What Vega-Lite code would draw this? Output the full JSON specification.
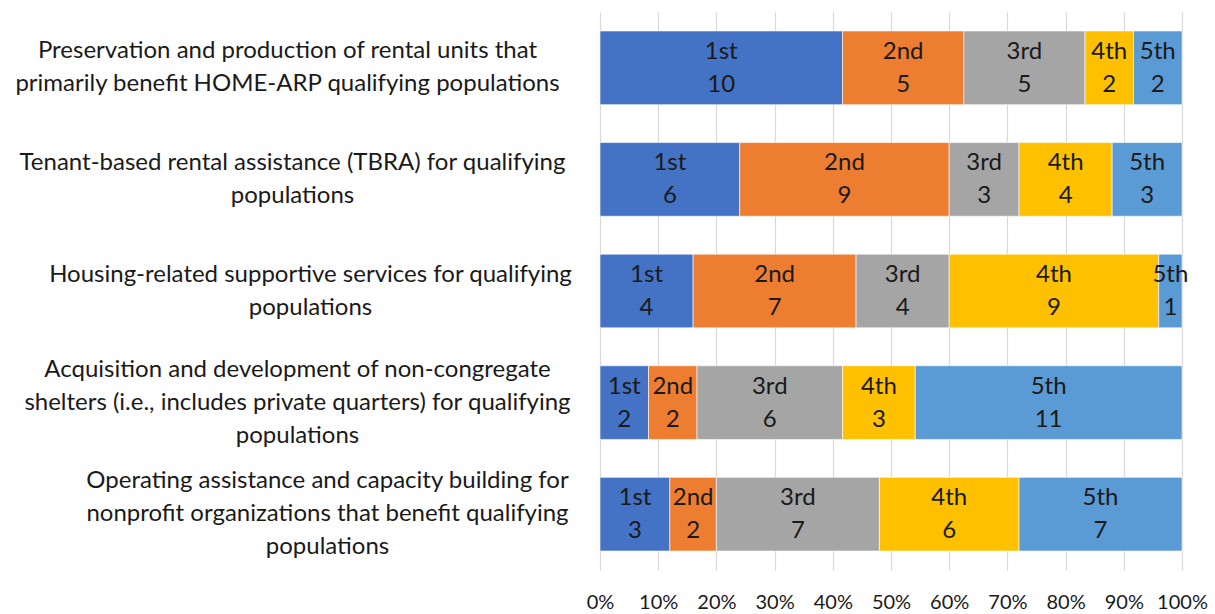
{
  "$schema": "https://vega.github.io/schema/vega-lite/v6.json",
  "width": 582,
  "height": 558,
  "autosize": {"type": "none"},
  "padding": {"left": 600, "top": 12, "right": 33, "bottom": 44},
  "background": "white",
  "config": {"view": {"stroke": null}, "font": "Lato"},
  "data": {
    "values": [
      {"task": "Preservation and production of rental units that|primarily benefit HOME-ARP qualifying populations", "rank": "1st", "count": 10},
      {"task": "Preservation and production of rental units that|primarily benefit HOME-ARP qualifying populations", "rank": "2nd", "count": 5},
      {"task": "Preservation and production of rental units that|primarily benefit HOME-ARP qualifying populations", "rank": "3rd", "count": 5},
      {"task": "Preservation and production of rental units that|primarily benefit HOME-ARP qualifying populations", "rank": "4th", "count": 2},
      {"task": "Preservation and production of rental units that|primarily benefit HOME-ARP qualifying populations", "rank": "5th", "count": 2},
      {"task": "Tenant-based rental assistance (TBRA) for qualifying|populations", "rank": "1st", "count": 6},
      {"task": "Tenant-based rental assistance (TBRA) for qualifying|populations", "rank": "2nd", "count": 9},
      {"task": "Tenant-based rental assistance (TBRA) for qualifying|populations", "rank": "3rd", "count": 3},
      {"task": "Tenant-based rental assistance (TBRA) for qualifying|populations", "rank": "4th", "count": 4},
      {"task": "Tenant-based rental assistance (TBRA) for qualifying|populations", "rank": "5th", "count": 3},
      {"task": "Housing-related supportive services for qualifying|populations", "rank": "1st", "count": 4},
      {"task": "Housing-related supportive services for qualifying|populations", "rank": "2nd", "count": 7},
      {"task": "Housing-related supportive services for qualifying|populations", "rank": "3rd", "count": 4},
      {"task": "Housing-related supportive services for qualifying|populations", "rank": "4th", "count": 9},
      {"task": "Housing-related supportive services for qualifying|populations", "rank": "5th", "count": 1},
      {"task": "Acquisition and development of non-congregate|shelters (i.e., includes private quarters) for qualifying|populations", "rank": "1st", "count": 2},
      {"task": "Acquisition and development of non-congregate|shelters (i.e., includes private quarters) for qualifying|populations", "rank": "2nd", "count": 2},
      {"task": "Acquisition and development of non-congregate|shelters (i.e., includes private quarters) for qualifying|populations", "rank": "3rd", "count": 6},
      {"task": "Acquisition and development of non-congregate|shelters (i.e., includes private quarters) for qualifying|populations", "rank": "4th", "count": 3},
      {"task": "Acquisition and development of non-congregate|shelters (i.e., includes private quarters) for qualifying|populations", "rank": "5th", "count": 11},
      {"task": "Operating assistance and capacity building for|nonprofit organizations that benefit qualifying|populations", "rank": "1st", "count": 3},
      {"task": "Operating assistance and capacity building for|nonprofit organizations that benefit qualifying|populations", "rank": "2nd", "count": 2},
      {"task": "Operating assistance and capacity building for|nonprofit organizations that benefit qualifying|populations", "rank": "3rd", "count": 7},
      {"task": "Operating assistance and capacity building for|nonprofit organizations that benefit qualifying|populations", "rank": "4th", "count": 6},
      {"task": "Operating assistance and capacity building for|nonprofit organizations that benefit qualifying|populations", "rank": "5th", "count": 7}
    ]
  },
  "transform": [
    {"stack": "count", "groupby": ["task"], "sort": [{"field": "rank"}], "offset": "normalize", "as": ["x0", "x1"]},
    {"calculate": "(datum.x0 + datum.x1) / 2", "as": "xmid"}
  ],
  "encoding": {
    "y": {
      "field": "task", "type": "nominal", "sort": null,
      "scale": {"paddingInner": 0.34, "paddingOuter": 0.17},
      "axis": {
        "title": null, "ticks": false, "domain": false, "grid": false,
        "labelExpr": "split(datum.value, '|')",
        "labelAlign": "center", "labelBaseline": "middle",
        "labelPadding": {
          "condition": [
            {"test": "indexof(datum.value, 'Preservation') == 0", "value": 313},
            {"test": "indexof(datum.value, 'Tenant') == 0", "value": 308},
            {"test": "indexof(datum.value, 'Housing') == 0", "value": 290},
            {"test": "indexof(datum.value, 'Acquisition') == 0", "value": 303}
          ],
          "value": 273
        },
        "labelOffset": {
          "condition": {"test": "indexof(datum.value, 'Acquisition') == 0 || indexof(datum.value, 'Operating') == 0", "value": -33},
          "value": -16.5
        },
        "labelLimit": 700,
        "labelFontSize": 24, "labelLineHeight": 33, "labelColor": "#1a1a1a", "labelFont": "Lato"
      }
    }
  },
  "layer": [
    {
      "mark": {"type": "bar", "stroke": "white", "strokeWidth": 0.6},
      "encoding": {
        "x": {
          "field": "x0", "type": "quantitative",
          "scale": {"domain": [0, 1], "nice": false},
          "axis": {
            "title": null, "format": ".0%", "values": [0, 0.1, 0.2, 0.3, 0.4, 0.5, 0.6, 0.7, 0.8, 0.9, 1],
            "ticks": false, "domain": false, "grid": true, "gridColor": "#D9D9D9", "gridWidth": 1.2,
            "labelFlush": false, "labelPadding": 22, "labelFontSize": 20, "labelColor": "#1a1a1a", "labelFont": "Lato"
          }
        },
        "x2": {"field": "x1"},
        "color": {
          "field": "rank", "type": "nominal", "legend": null,
          "scale": {"domain": ["1st", "2nd", "3rd", "4th", "5th"], "range": ["#4472C4", "#ED7D31", "#A5A5A5", "#FFC000", "#5B9BD5"]}
        }
      }
    },
    {
      "mark": {"type": "text", "fontSize": 24, "font": "Lato", "color": "#1a1a1a", "baseline": "middle", "dy": -16},
      "encoding": {
        "x": {"field": "xmid", "type": "quantitative"},
        "text": {"field": "rank", "type": "nominal"}
      }
    },
    {
      "mark": {"type": "text", "fontSize": 24, "font": "Lato", "color": "#1a1a1a", "baseline": "middle", "dy": 17},
      "encoding": {
        "x": {"field": "xmid", "type": "quantitative"},
        "text": {"field": "count", "type": "quantitative"}
      }
    }
  ]
}
